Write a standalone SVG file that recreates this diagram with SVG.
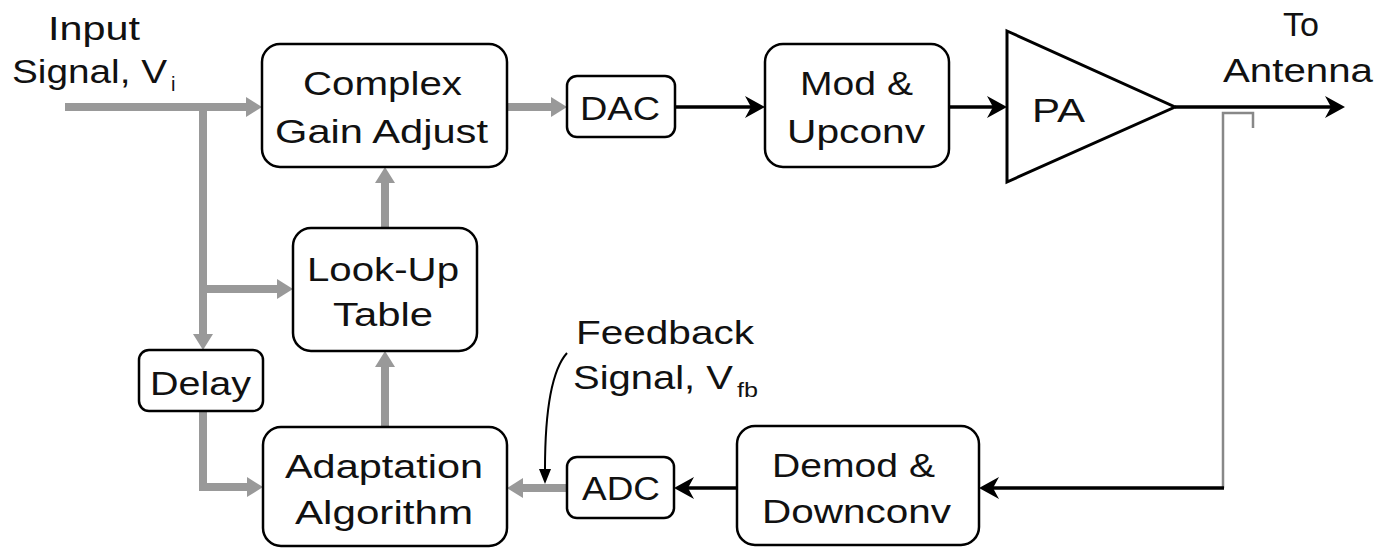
<svg xmlns="http://www.w3.org/2000/svg" width="1392" height="548" viewBox="0 0 1392 548">
<defs>
<style>
.box{fill:#fff;stroke:#000;stroke-width:2.5}
.t{font-family:"Liberation Sans",Arial,sans-serif;font-size:33px;fill:#111}
.s{font-family:"Liberation Sans",Arial,sans-serif;font-size:20px;fill:#111}
.g{fill:none;stroke:#999;stroke-width:8}
.k{fill:none;stroke:#000;stroke-width:3.5}
</style>
<marker id="ga" markerUnits="userSpaceOnUse" markerWidth="18" markerHeight="20" refX="0" refY="10" orient="auto" overflow="visible">
<path d="M0,0 L16,10 L0,20 z" fill="#999"/>
</marker>
<marker id="ka" markerUnits="userSpaceOnUse" markerWidth="20" markerHeight="22" refX="16" refY="11" orient="auto" overflow="visible">
<path d="M0,0 L20,11 L0,22 L6,11 z" fill="#000"/>
</marker>
<marker id="kf" markerUnits="userSpaceOnUse" markerWidth="12" markerHeight="16" refX="0" refY="6" orient="auto" overflow="visible">
<path d="M0,0 L15,6 L0,12 z" fill="#000"/>
</marker>
</defs>

<g id="connectors">
<path class="g" d="M65,107 H246" marker-end="url(#ga)"/>
<path class="g" d="M203,107 V334" marker-end="url(#ga)"/>
<path class="g" d="M203,289 H277" marker-end="url(#ga)"/>
<path class="g" d="M203,411 V487 H247" marker-end="url(#ga)"/>
<path class="g" d="M385,427 V367" marker-end="url(#ga)"/>
<path class="g" d="M385,228 V183" marker-end="url(#ga)"/>
<path class="g" d="M507,107 H551" marker-end="url(#ga)"/>
<path class="g" d="M567,488 H523" marker-end="url(#ga)"/>
<path class="k" d="M675,107 H761" marker-end="url(#ka)"/>
<path class="k" d="M949,107 H1003" marker-end="url(#ka)"/>
<path class="k" d="M1175,107 H1341" marker-end="url(#ka)"/>
<path d="M1253,128 V113 H1223 V488" fill="none" stroke="#888" stroke-width="2.5"/>
<path class="k" d="M1224,488 H983" marker-end="url(#ka)"/>
<path class="k" d="M736,488 H678" marker-end="url(#ka)"/>
<path d="M567,353 C550,372 545,420 545,469" fill="none" stroke="#000" stroke-width="2" marker-end="url(#kf)"/>
</g>

<g id="input-label">
<text class="t" x="48" y="40" textLength="92" lengthAdjust="spacingAndGlyphs">Input</text>
<text class="t" x="12" y="83" textLength="155" lengthAdjust="spacingAndGlyphs">Signal, V</text>
<text class="s" x="171" y="91">i</text>
</g>

<g id="complex-gain-adjust">
<rect class="box" x="262" y="44" width="245" height="123" rx="18"/>
<text class="t" x="303" y="95" textLength="159" lengthAdjust="spacingAndGlyphs">Complex</text>
<text class="t" x="275" y="143" textLength="213" lengthAdjust="spacingAndGlyphs">Gain Adjust</text>
</g>

<g id="dac">
<rect class="box" x="567" y="76" width="108" height="61" rx="10"/>
<text class="t" x="580" y="120" textLength="80" lengthAdjust="spacingAndGlyphs">DAC</text>
</g>

<g id="mod-upconv">
<rect class="box" x="765" y="44" width="184" height="123" rx="18"/>
<text class="t" x="800" y="95" textLength="113" lengthAdjust="spacingAndGlyphs">Mod &amp;</text>
<text class="t" x="787" y="143" textLength="138" lengthAdjust="spacingAndGlyphs">Upconv</text>
</g>

<g id="pa">
<path d="M1007,31 L1175,107 L1007,182 z" fill="#fff" stroke="#000" stroke-width="3"/>
<text class="t" x="1032" y="122" textLength="53" lengthAdjust="spacingAndGlyphs">PA</text>
</g>

<g id="antenna-label">
<text class="t" x="1283" y="36" textLength="36" lengthAdjust="spacingAndGlyphs">To</text>
<text class="t" x="1223" y="82" textLength="150" lengthAdjust="spacingAndGlyphs">Antenna</text>
</g>

<g id="look-up-table">
<rect class="box" x="293" y="228" width="184" height="123" rx="18"/>
<text class="t" x="307" y="281" textLength="152" lengthAdjust="spacingAndGlyphs">Look-Up</text>
<text class="t" x="333" y="326" textLength="100" lengthAdjust="spacingAndGlyphs">Table</text>
</g>

<g id="delay">
<rect class="box" x="139" y="350" width="124" height="61" rx="10"/>
<text class="t" x="150" y="395" textLength="101" lengthAdjust="spacingAndGlyphs">Delay</text>
</g>

<g id="adaptation-algorithm">
<rect class="box" x="263" y="427" width="244" height="119" rx="18"/>
<text class="t" x="285" y="478" textLength="198" lengthAdjust="spacingAndGlyphs">Adaptation</text>
<text class="t" x="295" y="524" textLength="178" lengthAdjust="spacingAndGlyphs">Algorithm</text>
</g>

<g id="feedback-label">
<text class="t" x="576" y="344" textLength="178" lengthAdjust="spacingAndGlyphs">Feedback</text>
<text class="t" x="573" y="389" textLength="160" lengthAdjust="spacingAndGlyphs">Signal, V</text>
<text class="s" x="737" y="397" textLength="21" lengthAdjust="spacingAndGlyphs">fb</text>
</g>

<g id="adc">
<rect class="box" x="567" y="457" width="107" height="61" rx="10"/>
<text class="t" x="582" y="500" textLength="78" lengthAdjust="spacingAndGlyphs">ADC</text>
</g>

<g id="demod-downconv">
<rect class="box" x="737" y="426" width="242" height="119" rx="18"/>
<text class="t" x="772" y="477" textLength="163" lengthAdjust="spacingAndGlyphs">Demod &amp;</text>
<text class="t" x="762" y="523" textLength="189" lengthAdjust="spacingAndGlyphs">Downconv</text>
</g>
</svg>
